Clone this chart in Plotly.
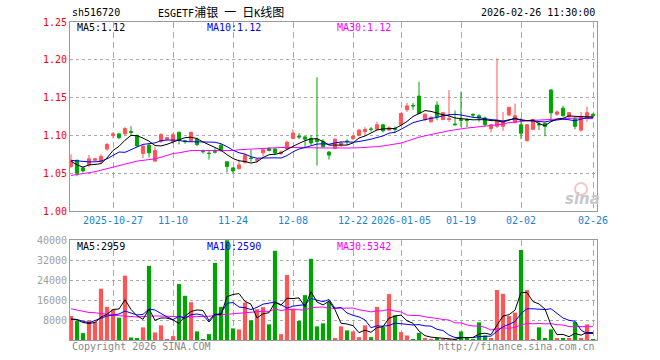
import plotly.graph_objects as go
import pandas as pd

# ---------------- data ----------------
holidays = ["2026-01-01", "2026-01-02", "2026-02-16", "2026-02-17",
            "2026-02-18", "2026-02-19", "2026-02-20", "2026-02-23"]
dates = [d.strftime("%Y-%m-%d") for d in pd.bdate_range("2025-10-16", "2026-02-26")
         if d.strftime("%Y-%m-%d") not in holidays]

opens = [1.059, 1.067, 1.057, 1.061, 1.067, 1.065, 1.082, 1.100, 1.102, 1.102,
         1.105, 1.100, 1.076, 1.087, 1.066, 1.092, 1.095, 1.092, 1.104, 1.093,
         1.093, 1.095, 1.079, 1.0765, 1.0785, 1.087, 1.065, 1.057, 1.056, 1.064,
         1.070, 1.067, 1.077, 1.083, 1.082, 1.076, 1.082, 1.096, 1.099, 1.098,
         1.096, 1.095, 1.092, 1.078, 1.083, 1.087, 1.0925, 1.096, 1.100, 1.105,
         1.1085, 1.108, 1.114, 1.107, 1.109, 1.114, 1.134, 1.1395, 1.152, 1.121,
         1.118, 1.140, 1.121, 1.121, 1.115, 1.121, 1.121, 1.128, 1.126, 1.123,
         1.109, 1.112, 1.112, 1.127, 1.117, 1.114, 1.093, 1.108, 1.115, 1.116,
         1.160, 1.128, 1.136, 1.125, 1.122, 1.107, 1.123, 1.128]
highs = [1.075, 1.068, 1.058, 1.074, 1.070, 1.075, 1.090, 1.104, 1.103, 1.111,
         1.112, 1.101, 1.087, 1.090, 1.085, 1.103, 1.098, 1.103, 1.105, 1.094,
         1.105, 1.097, 1.081, 1.080, 1.083, 1.089, 1.066, 1.058, 1.068, 1.076,
         1.081, 1.070, 1.082, 1.084, 1.083, 1.080, 1.093, 1.108, 1.103, 1.099,
         1.100, 1.177, 1.095, 1.079, 1.096, 1.092, 1.095, 1.100, 1.108, 1.111,
         1.111, 1.118, 1.115, 1.112, 1.112, 1.130, 1.143, 1.143, 1.171, 1.129,
         1.125, 1.145, 1.131, 1.160, 1.133, 1.158, 1.123, 1.129, 1.128, 1.125,
         1.115, 1.202, 1.131, 1.138, 1.142, 1.123, 1.115, 1.122, 1.119, 1.117,
         1.161, 1.133, 1.139, 1.131, 1.124, 1.131, 1.138, 1.129]
lows = [1.057, 1.046, 1.051, 1.058, 1.066, 1.063, 1.080, 1.096, 1.095, 1.100,
        1.100, 1.085, 1.070, 1.071, 1.065, 1.090, 1.094, 1.089, 1.088, 1.089,
        1.091, 1.086, 1.076, 1.068, 1.076, 1.078, 1.051, 1.050, 1.055, 1.063,
        1.065, 1.064, 1.072, 1.079, 1.074, 1.074, 1.081, 1.095, 1.095, 1.083,
        1.087, 1.060, 1.084, 1.068, 1.082, 1.085, 1.087, 1.094, 1.099, 1.100,
        1.105, 1.107, 1.104, 1.106, 1.103, 1.113, 1.131, 1.134, 1.128, 1.119,
        1.117, 1.120, 1.120, 1.118, 1.114, 1.111, 1.111, 1.124, 1.118, 1.112,
        1.104, 1.110, 1.106, 1.126, 1.116, 1.095, 1.092, 1.107, 1.107, 1.099,
        1.120, 1.126, 1.125, 1.121, 1.108, 1.105, 1.118, 1.125]
closes = [1.067, 1.050, 1.053, 1.069, 1.069, 1.072, 1.088, 1.102, 1.097, 1.109,
          1.104, 1.086, 1.086, 1.077, 1.080, 1.101, 1.097, 1.101, 1.094, 1.092,
          1.104, 1.088, 1.0785, 1.076, 1.078, 1.081, 1.059, 1.053, 1.061, 1.074,
          1.0695, 1.068, 1.081, 1.080, 1.077, 1.078, 1.091, 1.103, 1.098, 1.095,
          1.090, 1.092, 1.085, 1.074, 1.095, 1.090, 1.092, 1.099, 1.107, 1.108,
          1.108, 1.114, 1.106, 1.110, 1.108, 1.129, 1.139, 1.139, 1.129, 1.128,
          1.124, 1.125, 1.130, 1.122, 1.114, 1.120, 1.120, 1.127, 1.123, 1.114,
          1.114, 1.119, 1.118, 1.137, 1.126, 1.103, 1.114, 1.121, 1.114, 1.112,
          1.130, 1.131, 1.126, 1.130, 1.112, 1.125, 1.130, 1.126]
volumes = [9613, 7596, 2756, 7865, 7193, 20504, 13243, 12168, 8941, 25746,
           1008, 605, 5042, 29645, 3025, 5849, 200, 1546, 22385, 17680,
           15126, 3429, 336, 2353, 30855, 13243, 39900, 4638, 4235, 14991,
           7865, 12302, 13109, 6252, 35697, 2353, 26016, 12571, 7596, 17949,
           32464, 5445, 6655, 15260, 740, 5445, 3832, 3429, 1143, 5849,
           1143, 13243, 5176, 18353, 9882, 3160, 1815, 200, 2890, 605,
           200, 470, 200, 200, 200, 3429, 1143, 200, 7059, 1815,
           740, 20000, 18472, 9613, 10958, 36000, 19966, 200, 5055, 605,
           4235, 605, 605, 605, 7193, 605, 6252, 140]

# moving-average values read off the chart where the window is not yet full
ma5_head = [1.066, 1.061, 1.058, 1.061]
ma10_head = [1.067, 1.066, 1.065, 1.065, 1.065, 1.066, 1.069, 1.074, 1.078]
ma30_head = [1.047, 1.048, 1.049, 1.050, 1.052, 1.054, 1.056, 1.058, 1.060, 1.063,
             1.065, 1.066, 1.067, 1.068, 1.069, 1.071, 1.074, 1.076, 1.077, 1.079,
             1.080, 1.080, 1.080, 1.080, 1.080, 1.080, 1.080, 1.080, 1.081]
vma5_head = [8200, 8100, 7000, 6600]
vma10_head = [8500, 8200, 7500, 6900, 7800, 8600, 9600, 10000, 10400]
vma30_head = [12500, 12000, 11500, 11000, 10900, 10700, 10300, 9900, 9700, 9500,
              9300, 9200, 9400, 9600, 9600, 9600, 9600, 9500, 9300, 9200,
              9200, 9200, 9300, 9500, 9900, 10100, 10300, 10500, 10700]

tick_dates = ["2025-10-27", "2025-11-10", "2025-11-24", "2025-12-08", "2025-12-22",
              "2026-01-05", "2026-01-19", "2026-02-02", "2026-02-26"]
tick_labels = ["2025-10-27", "11-10", "11-24", "12-08", "12-22",
               "2026-01-05", "01-19", "02-02", "02-26"]
price_ticks = [1.00, 1.05, 1.10, 1.15, 1.20, 1.25]
vol_ticks = [8000, 16000, 24000, 32000, 40000]

code = "sh516720"
title_parts = [("ESGETF", False), ("浦银", True), (" ", False), ("一", True),
               (" ", False), ("日", True), ("K", False), ("线图", True)]
stamp = "2026-02-26 11:30:00"


def ma(vals, n, head):
    s = pd.Series(vals).rolling(n).mean().tolist()
    return list(head) + s[n - 1:]


ma5 = ma(closes, 5, ma5_head)
ma10 = ma(closes, 10, ma10_head)
ma30 = ma(closes, 30, ma30_head)
vma5 = ma(volumes, 5, vma5_head)
vma10 = ma(volumes, 10, vma10_head)
vma30 = ma(volumes, 30, vma30_head)

# ---------------- style ----------------
RED = "#ff5555"
GREEN = "#00a400"
MONO = "DejaVu Sans Mono"
GRID = "#aaaaaa"
BORDER = "#999999"

L, R, T, B = 70, 597, 22, 340
W, H = 660, 360


def px(x):
    return (x - L) / (R - L)


def py(y):
    return (B - y) / (B - T)


fig = go.Figure()

fig.add_trace(go.Candlestick(
    x=dates, open=opens, high=highs, low=lows, close=closes,
    increasing=dict(line=dict(color=RED, width=1), fillcolor=RED),
    decreasing=dict(line=dict(color=GREEN, width=1), fillcolor=GREEN),
    whiskerwidth=0, showlegend=False, hoverinfo="skip",
    xaxis="x", yaxis="y"))

for vals, col in [(ma30, "#ff00ff"), (ma10, "#0000ff"), (ma5, "#000000")]:
    fig.add_trace(go.Scatter(x=dates, y=vals, mode="lines",
                             line=dict(color=col, width=1),
                             showlegend=False, hoverinfo="skip",
                             xaxis="x", yaxis="y"))

vcolors = [RED if c > o else GREEN for o, c in zip(opens, closes)]
fig.add_trace(go.Bar(x=dates, y=volumes, marker=dict(color=vcolors, line=dict(width=0)),
                     showlegend=False, hoverinfo="skip", xaxis="x2", yaxis="y2"))

for vals, col in [(vma30, "#ff00ff"), (vma10, "#0000ff"), (vma5, "#000000")]:
    fig.add_trace(go.Scatter(x=dates, y=vals, mode="lines",
                             line=dict(color=col, width=1),
                             showlegend=False, hoverinfo="skip",
                             xaxis="x2", yaxis="y2"))

xr = [-1 / 6, len(dates) - 1 + 4 / 6]
common_x = dict(type="category", range=xr, tickvals=tick_dates, ticktext=tick_labels,
                showgrid=True, gridcolor=GRID, gridwidth=1, griddash="6px,4px",
                showline=True, mirror=True, linecolor=BORDER, linewidth=1,
                ticks="", zeroline=False, fixedrange=True)

fig.update_layout(
    width=W, height=H,
    margin=dict(l=L, r=W - R, t=T, b=H - B, pad=0),
    paper_bgcolor="white", plot_bgcolor="white",
    bargap=0.3, boxgap=0.25,
    xaxis=dict(**common_x, domain=[0, 1], anchor="y",
               tickfont=dict(family=MONO, size=10, color="#1a82d8"),
               rangeslider=dict(visible=False)),
    xaxis2=dict(**common_x, domain=[0, 1], anchor="y2", showticklabels=False,
                matches="x"),
    yaxis=dict(domain=[py(211), 1], range=[1.0, 1.25],
               tickvals=price_ticks, ticktext=[f"{v:.2f}" for v in price_ticks],
               tickfont=dict(family=MONO, size=10, color="#ff0000"),
               showgrid=True, gridcolor=GRID, griddash="dot", gridwidth=1,
               showline=True, mirror=True, linecolor=BORDER, linewidth=1,
               ticks="", zeroline=False, fixedrange=True),
    yaxis2=dict(domain=[0, py(240)], range=[0, 40000],
                tickvals=vol_ticks, ticktext=[str(v) for v in vol_ticks],
                tickfont=dict(family=MONO, size=10, color="#a0a0a0"),
                showgrid=True, gridcolor=GRID, griddash="dot", gridwidth=1,
                showline=True, mirror=True, linecolor=BORDER, linewidth=1,
                ticks="", zeroline=False, fixedrange=True),
)


def ann(text, x, y, color="#000000", xanchor="left", size=10, family=MONO):
    fig.add_annotation(text=text, x=px(x), y=py(y), xref="paper", yref="paper",
                       xanchor=xanchor, yanchor="middle", showarrow=False,
                       font=dict(family=family, size=size, color=color))


title_html = "".join(
    f'<span style="font-size:12px">{t}</span>' if cjk else t for t, cjk in title_parts)

ann(code, 70, 13)
ann(title_html, 221, 13, xanchor="center", family=MONO + ", Noto Sans CJK SC")
ann(stamp, 597, 13, xanchor="right")

ann(f"MA5:{ma5[-1]:.2f}", 75, 27, "#000000")
ann(f"MA10:{ma10[-1]:.2f}", 205, 27, "#0000ff")
ann(f"MA30:{ma30[-1]:.2f}", 335, 27, "#ff00ff")

ann(f"MA5:{round(vma5[-1])}", 75, 247, "#000000")
ann(f"MA10:{round(vma10[-1])}", 205, 247, "#0000ff")
ann(f"MA30:{round(vma30[-1])}", 335, 247, "#ff00ff")

ann("Copyright 2026 SINA.COM", 70, 346, "#888888")
ann("http://finance.sina.com.cn", 597, 346, "#888888", xanchor="right")

# sina watermark
fig.add_shape(type="circle", xref="paper", yref="paper",
              x0=px(575), x1=px(587), y0=py(195), y1=py(183),
              line=dict(color="#f0c8c8", width=2), fillcolor="rgba(0,0,0,0)")
fig.add_annotation(text="<b><i>sina</i></b>", x=px(582), y=py(199), xref="paper", yref="paper",
                   xanchor="center", yanchor="middle", showarrow=False,
                   font=dict(family="DejaVu Sans", size=15, color="#c8c8c8"))

fig.write_html("out.html")
